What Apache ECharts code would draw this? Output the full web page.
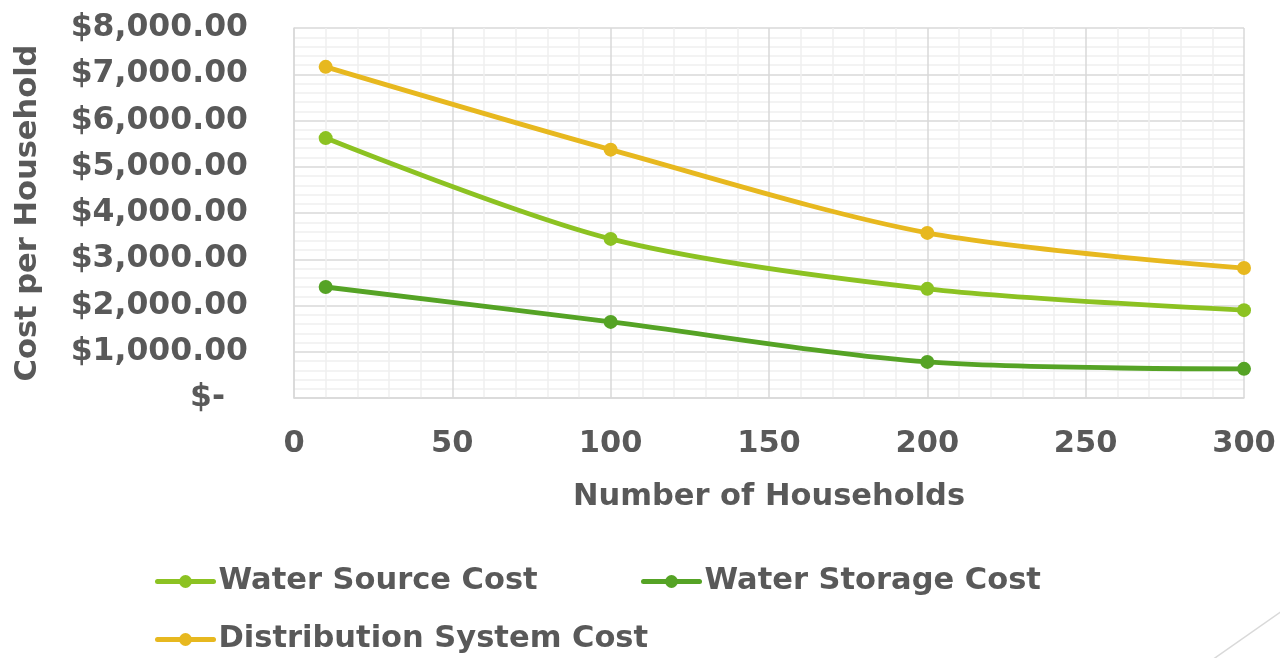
<!DOCTYPE html>
<html><head><meta charset="utf-8">
<script src="https://cdn.jsdelivr.net/npm/echarts@6/dist/echarts.min.js"></script>
<style>html,body{margin:0;padding:0;background:#fff}#c{width:1280px;height:658px}</style>
</head><body><div id="c"></div>
<script>
var households = [10, 100, 200, 300];
var waterSource = [5620, 3440, 2360, 1900];
var waterStorage = [2400, 1645, 780, 630];
var distribution = [7160, 5370, 3570, 2810];
var seriesNames = ['Water Source Cost', 'Water Storage Cost', 'Distribution System Cost'];
var colors = ['#8CC222', '#55A325', '#E7B81F'];

function pairs(ys){ return households.map(function(x,i){ return [x, ys[i]]; }); }
var FONT = 'DejaVu Sans';
var TXT = '#595959';
var chart = echarts.init(document.getElementById('c'));
var lg = function(name, left, top){
  return { data:[name], left:left, top:top, padding:0, itemWidth:56, itemHeight:16,
    lineStyle:{width:5, cap:'round'},
    textStyle:{fontFamily:FONT, fontWeight:'bold', fontSize:30.5, color:TXT}, itemGap:0 };
};
chart.setOption({
  animation:false,
  color: colors,
  grid:{left:294, right:36, top:28, bottom:260},
  legend:[lg(seriesNames[0],155,566), lg(seriesNames[1],641,566), lg(seriesNames[2],155,624)],
  xAxis:{type:'value', min:0, max:300, interval:50,
    name:'Number of Households', nameLocation:'middle', nameGap:84,
    nameTextStyle:{fontFamily:FONT, fontWeight:'bold', fontSize:30.5, color:TXT},
    axisLine:{show:true, lineStyle:{color:'#d9d9d9', width:1.5}},
    axisTick:{show:false},
    axisLabel:{fontFamily:FONT, fontWeight:'bold', fontSize:30.5, color:TXT, margin:31},
    splitLine:{show:true, lineStyle:{color:'#d9d9d9', width:1.5}},
    minorTick:{show:false, splitNumber:5},
    minorSplitLine:{show:true, lineStyle:{color:'#efefef', width:1.5}}
  },
  yAxis:{type:'value', min:0, max:8000, interval:1000,
    name:'Cost per Household', nameLocation:'middle', nameGap:250,
    nameTextStyle:{fontFamily:FONT, fontWeight:'bold', fontSize:30.5, color:TXT},
    axisLine:{show:true, lineStyle:{color:'#d9d9d9', width:1.5}},
    axisTick:{show:false},
    axisLabel:{fontFamily:FONT, fontWeight:'bold', fontSize:31.5, color:TXT, margin:46,
      formatter:function(v){ if(v===0) return '{z|$-}'; return '$' + v.toLocaleString('en-US',{minimumFractionDigits:2, maximumFractionDigits:2}); },
      rich:{z:{fontFamily:FONT, fontWeight:'bold', fontSize:31.5, color:TXT, padding:[0,23,0,0]}}
    },
    splitLine:{show:true, lineStyle:{color:'#d9d9d9', width:1.5}},
    minorTick:{show:false, splitNumber:5},
    minorSplitLine:{show:true, lineStyle:{color:'#efefef', width:1.5}}
  },
  graphic:[{type:'line', shape:{x1:1212, y1:660, x2:1282, y2:611}, style:{stroke:'#d9d9d9', lineWidth:1.5}}],
  series:[
    {name:seriesNames[0], type:'line', smooth:0.3, data:pairs(waterSource), symbol:'circle', symbolSize:14, lineStyle:{width:4.8}},
    {name:seriesNames[1], type:'line', smooth:0.3, data:pairs(waterStorage), symbol:'circle', symbolSize:14, lineStyle:{width:4.8}},
    {name:seriesNames[2], type:'line', smooth:0.3, data:pairs(distribution), symbol:'circle', symbolSize:14, lineStyle:{width:4.8}}
  ]
});
</script></body></html>
